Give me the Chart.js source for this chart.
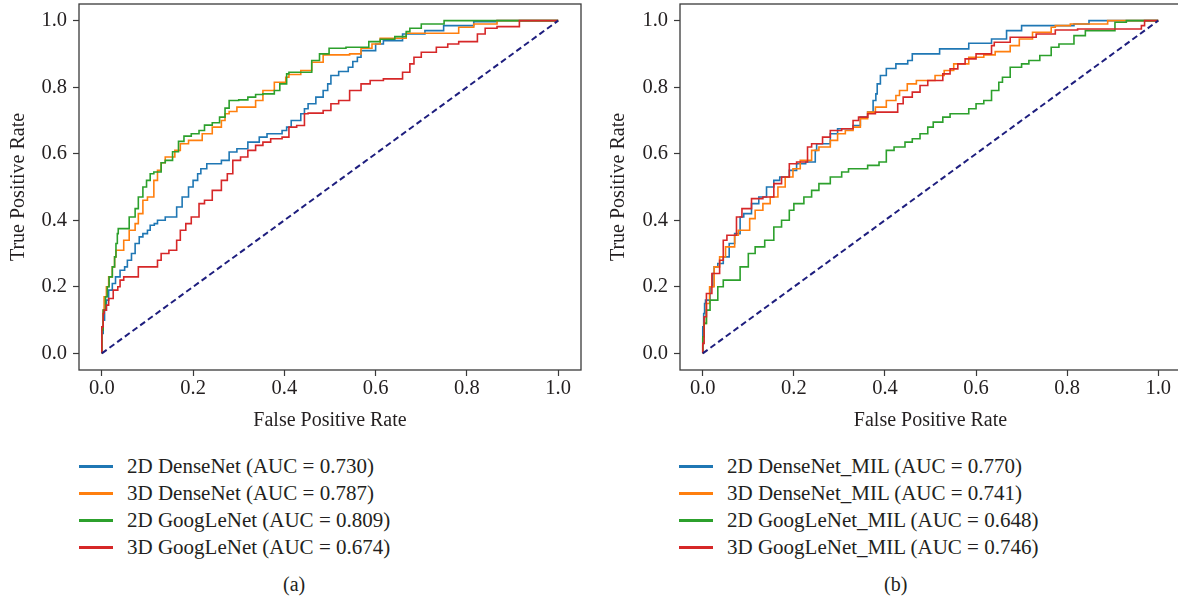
<!DOCTYPE html>
<html>
<head>
<meta charset="utf-8">
<script src="https://cdn.jsdelivr.net/npm/chart.js@4.4.1/dist/chart.umd.min.js"></script>
<style>
  html, body { margin: 0; padding: 0; background: #ffffff; overflow: hidden; }
  body { width: 1178px; height: 601px; position: relative; font-family: "Liberation Serif", "Times New Roman", "DejaVu Serif", serif; color: #231f20; }
  canvas { position: absolute; top: 0; }
  #cA { left: 0px; }
  #cB { left: 590px; }
  .leg { position: absolute; height: 26px; line-height: 26px; font-size: 21px; white-space: nowrap; }
  .sw { position: absolute; height: 3px; width: 34px; }
  .cap { position: absolute; font-size: 20px; line-height: 24px; white-space: nowrap; }
</style>
</head>
<body>
<canvas id="cA" width="590" height="440"></canvas>
<canvas id="cB" width="600" height="440"></canvas>
<div id="legends"></div>
<div class="cap" style="left:283px; top:572px;">(a)</div>
<div class="cap" style="left:884px; top:572px;">(b)</div>
<script>
// ---------------- DATA ----------------
const tickValues = [0.0, 0.2, 0.4, 0.6, 0.8, 1.0];
const colors = ['#1f77b4', '#ff7f0e', '#2ca02c', '#d62728'];
const diagonalX = [0, 1];
const diagonalY = [0, 1];

// Panel (a)
const labelsA = [
  '2D DenseNet (AUC = 0.730)',
  '3D DenseNet (AUC = 0.787)',
  '2D GoogLeNet (AUC = 0.809)',
  '3D GoogLeNet (AUC = 0.674)'
];
const fprA_dense2d = [0,0.003,0.006,0.01,0.015,0.023,0.03,0.04,0.05,0.056,0.065,0.073,0.082,0.09,0.1,0.106,0.115,0.122,0.139,0.164,0.176,0.19,0.2,0.21,0.217,0.23,0.262,0.279,0.296,0.32,0.345,0.362,0.395,0.405,0.415,0.436,0.444,0.452,0.469,0.485,0.495,0.502,0.519,0.54,0.55,0.56,0.568,0.6,0.617,0.659,0.708,0.749,0.815,0.866,1];
const tprA_dense2d = [0,0.06,0.1,0.13,0.16,0.19,0.21,0.23,0.25,0.26,0.28,0.30,0.33,0.35,0.36,0.37,0.385,0.39,0.40,0.41,0.44,0.47,0.5,0.52,0.54,0.555,0.57,0.58,0.605,0.615,0.635,0.65,0.66,0.67,0.68,0.70,0.72,0.735,0.75,0.77,0.79,0.81,0.835,0.847,0.86,0.877,0.89,0.91,0.93,0.94,0.96,0.97,0.985,0.997,1];
const fprA_dense3d = [0,0.003,0.005,0.01,0.015,0.023,0.028,0.031,0.048,0.06,0.073,0.08,0.09,0.1,0.114,0.122,0.13,0.139,0.16,0.172,0.19,0.22,0.242,0.262,0.27,0.279,0.296,0.337,0.353,0.378,0.403,0.41,0.436,0.46,0.485,0.543,0.568,0.592,0.61,0.667,0.782,0.815,0.866,0.965,1];
const tprA_dense3d = [0,0.08,0.13,0.17,0.2,0.23,0.26,0.29,0.31,0.34,0.37,0.39,0.42,0.46,0.47,0.52,0.55,0.573,0.59,0.61,0.63,0.64,0.66,0.68,0.70,0.72,0.727,0.74,0.76,0.79,0.815,0.83,0.838,0.85,0.875,0.897,0.90,0.917,0.93,0.947,0.962,0.98,0.99,1.0,1];
const fprA_goog2d = [0,0.003,0.008,0.012,0.016,0.023,0.028,0.031,0.034,0.036,0.06,0.073,0.08,0.09,0.098,0.106,0.114,0.13,0.139,0.155,0.168,0.18,0.196,0.213,0.225,0.242,0.258,0.27,0.279,0.3,0.32,0.337,0.353,0.378,0.39,0.405,0.41,0.46,0.477,0.498,0.535,0.585,0.61,0.642,0.667,0.675,0.7,0.75,0.755,1];
const tprA_goog2d = [0,0.07,0.13,0.17,0.2,0.23,0.26,0.29,0.33,0.36,0.375,0.41,0.435,0.47,0.5,0.52,0.54,0.545,0.573,0.58,0.606,0.637,0.653,0.66,0.67,0.686,0.693,0.71,0.737,0.76,0.762,0.77,0.778,0.78,0.79,0.81,0.84,0.845,0.88,0.90,0.917,0.92,0.937,0.944,0.952,0.967,0.977,0.99,1.0,1];
const fprA_goog3d = [0,0.003,0.005,0.01,0.015,0.025,0.035,0.04,0.048,0.08,0.09,0.122,0.13,0.147,0.164,0.172,0.184,0.196,0.213,0.225,0.242,0.262,0.275,0.287,0.304,0.32,0.337,0.353,0.37,0.395,0.41,0.427,0.444,0.452,0.485,0.502,0.519,0.543,0.568,0.588,0.617,0.659,0.675,0.684,0.7,0.733,0.758,0.782,0.823,0.84,0.866,0.915,0.965,1];
const tprA_goog3d = [0,0.08,0.12,0.13,0.145,0.165,0.19,0.2,0.22,0.23,0.26,0.26,0.28,0.3,0.31,0.34,0.37,0.39,0.41,0.45,0.46,0.49,0.52,0.54,0.58,0.59,0.61,0.625,0.635,0.645,0.65,0.68,0.685,0.72,0.722,0.73,0.75,0.76,0.79,0.81,0.82,0.825,0.845,0.87,0.89,0.905,0.92,0.93,0.937,0.96,0.977,0.982,1.0,1];

// Panel (b)
const labelsB = [
  '2D DenseNet_MIL (AUC = 0.770)',
  '3D DenseNet_MIL (AUC = 0.741)',
  '2D GoogLeNet_MIL (AUC = 0.648)',
  '3D GoogLeNet_MIL (AUC = 0.746)'
];
const fprB_dense2d = [0,0.002,0.004,0.006,0.016,0.022,0.025,0.033,0.045,0.058,0.07,0.082,0.09,0.107,0.123,0.14,0.156,0.169,0.19,0.206,0.226,0.247,0.25,0.28,0.296,0.33,0.346,0.362,0.374,0.38,0.383,0.39,0.403,0.424,0.45,0.46,0.52,0.584,0.634,0.667,0.7,0.815,0.848,0.91,1];
const tprB_dense2d = [0,0.08,0.12,0.15,0.16,0.2,0.24,0.26,0.27,0.29,0.33,0.36,0.41,0.42,0.45,0.47,0.50,0.52,0.53,0.55,0.57,0.575,0.61,0.63,0.66,0.675,0.685,0.71,0.725,0.76,0.78,0.81,0.835,0.856,0.87,0.88,0.90,0.915,0.932,0.945,0.97,0.985,0.99,1.0,1];
const fprB_dense3d = [0,0.003,0.008,0.015,0.025,0.037,0.05,0.07,0.078,0.086,0.103,0.115,0.132,0.148,0.165,0.181,0.198,0.214,0.239,0.255,0.28,0.296,0.313,0.33,0.346,0.362,0.379,0.403,0.424,0.432,0.449,0.469,0.51,0.53,0.551,0.584,0.617,0.642,0.675,0.695,0.724,0.765,0.774,0.807,0.889,0.955,1];
const tprB_dense3d = [0,0.05,0.09,0.15,0.2,0.26,0.29,0.32,0.355,0.37,0.37,0.405,0.43,0.45,0.47,0.50,0.53,0.555,0.58,0.61,0.62,0.64,0.66,0.67,0.68,0.705,0.725,0.74,0.76,0.775,0.79,0.81,0.82,0.835,0.85,0.87,0.89,0.897,0.907,0.925,0.945,0.965,0.98,0.985,0.99,1.0,1];
const fprB_goog2d = [0,0.003,0.008,0.016,0.033,0.045,0.05,0.082,0.1,0.115,0.136,0.156,0.173,0.19,0.2,0.222,0.239,0.255,0.28,0.305,0.32,0.362,0.387,0.403,0.42,0.444,0.46,0.477,0.494,0.506,0.527,0.543,0.584,0.6,0.617,0.634,0.65,0.658,0.675,0.7,0.716,0.74,0.765,0.782,0.815,0.84,0.852,0.905,0.93,1];
const tprB_goog2d = [0,0.05,0.09,0.13,0.16,0.2,0.22,0.22,0.26,0.30,0.32,0.34,0.38,0.40,0.43,0.45,0.47,0.49,0.51,0.53,0.545,0.555,0.565,0.575,0.61,0.62,0.635,0.645,0.66,0.68,0.695,0.71,0.72,0.735,0.75,0.76,0.79,0.815,0.83,0.86,0.87,0.88,0.895,0.92,0.93,0.955,0.97,0.97,0.995,1];
const fprB_goog3d = [0,0.003,0.008,0.02,0.037,0.045,0.053,0.074,0.086,0.107,0.132,0.156,0.173,0.19,0.206,0.23,0.239,0.263,0.28,0.305,0.33,0.342,0.362,0.379,0.428,0.44,0.46,0.477,0.494,0.527,0.543,0.56,0.576,0.6,0.634,0.64,0.675,0.732,0.774,0.823,0.963,0.97,1];
const tprB_goog3d = [0,0.03,0.11,0.18,0.24,0.28,0.34,0.355,0.41,0.435,0.465,0.47,0.51,0.53,0.57,0.575,0.62,0.63,0.65,0.67,0.675,0.70,0.71,0.72,0.725,0.75,0.77,0.785,0.805,0.82,0.84,0.855,0.87,0.885,0.90,0.925,0.935,0.95,0.96,0.972,0.975,0.985,1];

// ---------------- BUILD ----------------
const FONT = '"Liberation Serif", "Times New Roman", "DejaVu Serif", serif';
const INK = '#231f20';
const AXIS = '#3a3a3a';

function pts(xs, ys) { return xs.map((x, i) => ({ x: x, y: ys[i] })); }

function makeDatasets(series) {
  const ds = series.map((s, i) => ({
    data: pts(s[0], s[1]),
    borderColor: colors[i],
    borderWidth: 1.6,
    pointRadius: 0,
    fill: false,
    stepped: 'after',
    order: series.length - i
  }));
  ds.push({
    data: pts(diagonalX, diagonalY),
    borderColor: '#1e1e7e',
    borderWidth: 2,
    borderDash: [6, 3.5],
    pointRadius: 0,
    fill: false,
    order: 0
  });
  return ds;
}

const boxPlugin = {
  id: 'box',
  afterDraw(chart) {
    const a = chart.chartArea, ctx = chart.ctx;
    ctx.save();
    ctx.strokeStyle = AXIS;
    ctx.lineWidth = 1.3;
    ctx.strokeRect(a.left, a.top, a.right - a.left, a.bottom - a.top);
    ctx.restore();
  }
};

function axisCommon(title, titlePad) {
  return {
    type: 'linear',
    min: -0.05,
    max: 1.05,
    afterBuildTicks(scale) { scale.ticks = tickValues.map(v => ({ value: v })); },
    ticks: {
      font: { family: FONT, size: 20.5 },
      color: INK,
      autoSkip: false,
      maxRotation: 0,
      callback: v => Number(v).toFixed(1)
    },
    grid: {
      drawOnChartArea: false,
      drawTicks: true,
      tickLength: 6,
      tickColor: AXIS,
      tickWidth: 1.2
    },
    border: { display: false },
    title: {
      display: true,
      text: title,
      color: INK,
      font: { family: FONT, size: 20 },
      padding: titlePad
    }
  };
}

function makeChart(id, series, yWidth, yTitlePadTop, padRight) {
  const xs = axisCommon('False Positive Rate', { top: 0, bottom: 7 });
  xs.ticks.padding = 0;
  xs.afterFit = s => { s.height = 70; s.paddingLeft = 0; s.paddingRight = 0; };
  const ys = axisCommon('True Positive Rate', { top: yTitlePadTop, bottom: 0 });
  ys.ticks.padding = 6;
  ys.afterFit = s => { s.width = yWidth; s.paddingTop = 0; s.paddingBottom = 0; };
  return new Chart(document.getElementById(id), {
    type: 'line',
    data: { datasets: makeDatasets(series) },
    options: {
      responsive: false,
      animation: false,
      layout: { autoPadding: false, padding: { left: 0, top: 4, right: padRight, bottom: 0 } },
      scales: { x: xs, y: ys },
      plugins: { legend: { display: false }, tooltip: { enabled: false } }
    },
    plugins: [boxPlugin]
  });
}

makeChart('cA', [
  [fprA_dense2d, tprA_dense2d],
  [fprA_dense3d, tprA_dense3d],
  [fprA_goog2d, tprA_goog2d],
  [fprA_goog3d, tprA_goog3d]
], 79, 6.5, 9);

makeChart('cB', [
  [fprB_dense2d, tprB_dense2d],
  [fprB_dense3d, tprB_dense3d],
  [fprB_goog2d, tprB_goog2d],
  [fprB_goog3d, tprB_goog3d]
], 90, 17, 9);

// ---------------- LEGENDS (HTML text) ----------------
const legendRows = [466, 493, 520, 547];
function buildLegend(labels, lineLeft, textLeft) {
  const host = document.getElementById('legends');
  labels.forEach((lab, i) => {
    const sw = document.createElement('div');
    sw.className = 'sw';
    sw.style.left = lineLeft + 'px';
    sw.style.top = (legendRows[i] - 1.5) + 'px';
    sw.style.background = colors[i];
    host.appendChild(sw);
    const t = document.createElement('div');
    t.className = 'leg';
    t.style.left = textLeft + 'px';
    t.style.top = (legendRows[i] - 13) + 'px';
    t.textContent = lab;
    host.appendChild(t);
  });
}
buildLegend(labelsA, 79, 127);
buildLegend(labelsB, 679, 727);
</script>
</body>
</html>
